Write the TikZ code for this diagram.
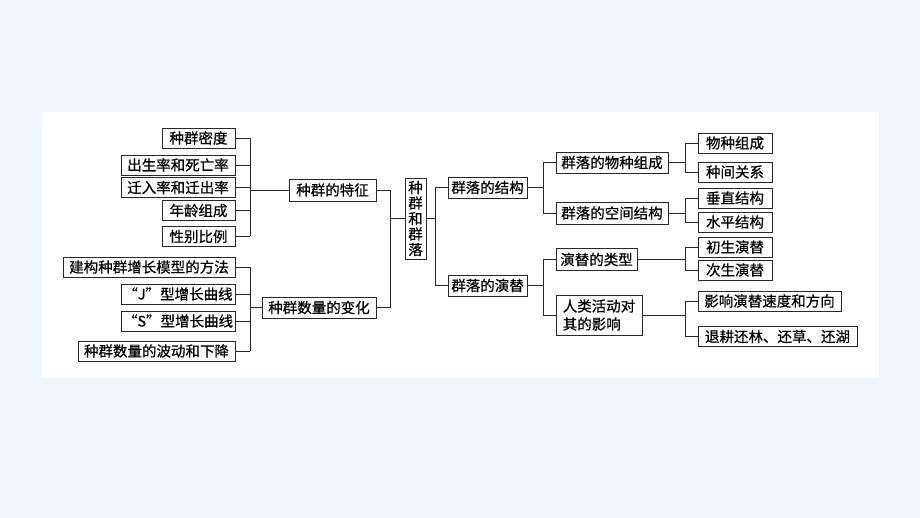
\documentclass[tikz,border=0pt]{standalone}
\usepackage{fontspec}
\newfontfamily\cjk[FakeBold=0.6]{Noto Sans CJK SC}
\definecolor{bgblue}{RGB}{239,246,254}
\definecolor{ink}{RGB}{40,40,40}
\tikzset{
  box/.style={draw=ink,line width=0.8pt,inner sep=1pt,minimum height=20pt,
    font=\cjk\fontsize{14.5}{17}\selectfont,text=black},
  wire/.style={draw=ink,line width=0.8pt}
}
\begin{document}
\begin{tikzpicture}[x=1pt,y=-1pt]
  \useasboundingbox[fill=bgblue] (0,0) rectangle (920,518);
  \fill[white] (41,112) rectangle (879,378);
  % left leaves
  \node[box,minimum width=73pt] (mi) at (198.5,138) {种群密度};
  \node[box,minimum width=114pt] (cs) at (178,165) {出生率和死亡率};
  \node[box,minimum width=114pt] (qr) at (178,187.5) {迁入率和迁出率};
  \node[box,minimum width=73pt] (nl) at (198.5,210.5) {年龄组成};
  \node[box,minimum width=73pt] (xb) at (198.5,236.5) {性别比例};
  \node[box,minimum width=172pt] (jg) at (149,267) {建构种群增长模型的方法};
  \node[box,minimum width=114pt] (jx) at (178,294) {“J”型增长曲线};
  \node[box,minimum width=114pt] (sx) at (178,321) {“S”型增长曲线};
  \node[box,minimum width=157pt] (bd) at (156.5,351) {种群数量的波动和下降};
  % middle
  \node[box,minimum width=87pt,minimum height=22pt] (tz) at (332.5,190) {种群的特征};
  \node[box,minimum width=114pt,minimum height=21pt] (bh) at (319,307.5) {种群数量的变化};
  \node[box,minimum width=21pt,minimum height=81pt,align=center,
    font=\cjk\fontsize{14.5}{15.5}\selectfont] (zq) at (415.5,218.5) {种\\群\\和\\群\\落};
  \node[box,minimum width=79pt,minimum height=21pt] (jgo) at (487.5,187.5) {群落的结构};
  \node[box,minimum width=79pt,minimum height=21pt] (yt) at (487.5,285.5) {群落的演替};
  % right
  \node[box,minimum width=112pt,minimum height=21pt] (wz) at (612,162.5) {群落的物种组成};
  \node[box,minimum width=112pt,minimum height=22pt] (kj) at (612,213) {群落的空间结构};
  \node[box,minimum width=81pt,minimum height=22pt] (lx) at (596.5,259.5) {演替的类型};
  \node[box,minimum width=86pt,minimum height=40pt,align=left,
    font=\cjk\fontsize{14.5}{18}\selectfont] (rl) at (599,315) {人类活动对\\其的影响};
  \node[box,minimum width=74pt] (wc) at (735,143) {物种组成};
  \node[box,minimum width=74pt] (jr) at (735,172) {种间关系};
  \node[box,minimum width=74pt] (cz) at (735,198) {垂直结构};
  \node[box,minimum width=74pt] (sp) at (735,222) {水平结构};
  \node[box,minimum width=74pt] (cy) at (735,247) {初生演替};
  \node[box,minimum width=74pt] (cc) at (735,270) {次生演替};
  \node[box,minimum width=143pt] (ys) at (769.5,301) {影响演替速度和方向};
  \node[box,minimum width=159pt] (tg) at (777.5,336.5) {退耕还林、还草、还湖};
  % bus lines
  \coordinate (b1) at (250,0);
  \coordinate (b2) at (390,0);
  \coordinate (b3) at (435,0);
  \coordinate (b4) at (543,0);
  \coordinate (b5) at (685,0);
  \foreach \n in {mi,cs,qr,nl,xb,jg,jx,sx,bd}
    \draw[wire] (\n.east) -- (\n.east -| b1);
  \draw[wire] (mi.east -| b1) -- (xb.east -| b1);
  \draw[wire] (jg.east -| b1) -- (bd.east -| b1);
  \draw[wire] (tz.west -| b1) -- (tz.west);
  \draw[wire] (bh.west -| b1) -- (bh.west);
  \draw[wire] (tz.east) -- (tz.east -| b2) -- (bh.east -| b2) -- (bh.east);
  \draw[wire] (zq.west -| b2) -- (zq.west);
  \draw[wire] (zq.east) -- (zq.east -| b3);
  \draw[wire] (jgo.west) -- (jgo.west -| b3) -- (yt.west -| b3) -- (yt.west);
  \draw[wire] (jgo.east) -- (jgo.east -| b4);
  \draw[wire] (wz.west) -- (wz.west -| b4) -- (kj.west -| b4) -- (kj.west);
  \draw[wire] (yt.east) -- (yt.east -| b4);
  \draw[wire] (lx.west) -- (lx.west -| b4) -- (rl.west -| b4) -- (rl.west);
  \foreach \p/\a/\b in {wz/wc/jr,kj/cz/sp,lx/cy/cc,rl/ys/tg}{
    \draw[wire] (\p.east) -- (\p.east -| b5);
    \draw[wire] (\a.west) -- (\a.west -| b5) -- (\b.west -| b5) -- (\b.west);
  }
\end{tikzpicture}
\end{document}
